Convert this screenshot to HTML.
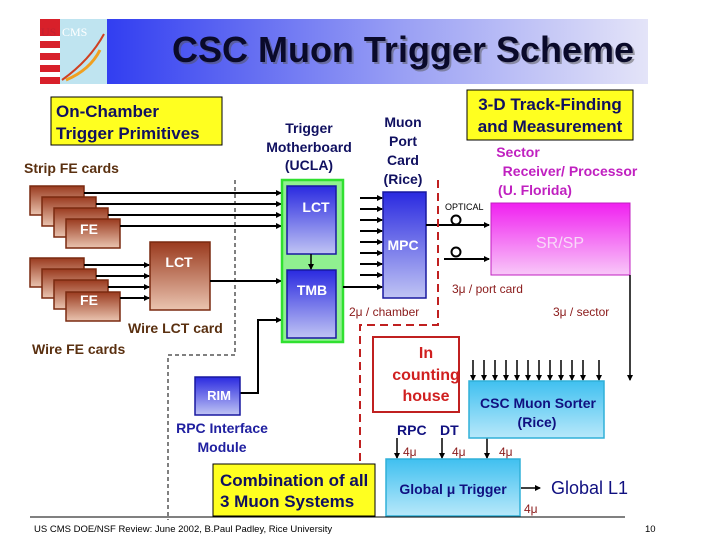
<!DOCTYPE html>
<html><head><meta charset="utf-8"><style>
html,body{margin:0;padding:0;background:#fff;}
svg{display:block;font-family:"Liberation Sans",Arial,sans-serif;}
</style></head><body>
<svg width="720" height="540" viewBox="0 0 720 540" xmlns="http://www.w3.org/2000/svg">
<defs>
<linearGradient id="tb" x1="0" x2="1" y1="0" y2="0"><stop offset="0" stop-color="#1a28f0"/><stop offset="0.6" stop-color="#9aa0f4"/><stop offset="1" stop-color="#e4e4f8"/></linearGradient>
<linearGradient id="br" x1="0" x2="0" y1="0" y2="1"><stop offset="0" stop-color="#9a3a1e"/><stop offset="1" stop-color="#eac4b0"/></linearGradient>
<linearGradient id="bl" x1="0" x2="0" y1="0" y2="1"><stop offset="0" stop-color="#2a2ae0"/><stop offset="1" stop-color="#c0c4f4"/></linearGradient>
<linearGradient id="mg" x1="0" x2="0" y1="0" y2="1"><stop offset="0" stop-color="#f020f0"/><stop offset="1" stop-color="#f8c8f8"/></linearGradient>
<linearGradient id="cy" x1="0" x2="0" y1="0" y2="1"><stop offset="0" stop-color="#40c0f0"/><stop offset="1" stop-color="#b8e8fa"/></linearGradient>
<marker id="a" markerWidth="6" markerHeight="6" refX="5" refY="3" orient="auto" markerUnits="userSpaceOnUse"><path d="M0,0 L6,3 L0,6z" fill="#000"/></marker>
</defs>
<rect x="40" y="19" width="608" height="65" fill="url(#tb)"/>
<rect x="40" y="19" width="67" height="65" fill="#bfe4f0"/>
<g fill="#d8202a"><rect x="40" y="19" width="20" height="65"/></g>
<g fill="#fff"><rect x="40" y="36" width="20" height="5"/><rect x="40" y="48" width="20" height="5"/><rect x="40" y="60" width="20" height="5"/><rect x="40" y="72" width="20" height="5"/></g>
<path d="M62,80 Q90,60 104,34" stroke="#d04020" stroke-width="2" fill="none"/>
<path d="M66,80 Q90,70 100,50" stroke="#f0a020" stroke-width="3" fill="none"/>
<text x="41" y="36" font-size="12" fill="#c02030" font-family="Liberation Serif,serif">US</text><text x="62" y="36" font-size="12" fill="#fff" font-family="Liberation Serif,serif">CMS</text>
<text x="405" y="64" font-size="36" font-weight="bold" text-anchor="middle" fill="#555" opacity="0.5">CSC Muon Trigger Scheme</text>
<text x="403" y="62" font-size="36" font-weight="bold" text-anchor="middle" fill="#0a0a2a">CSC Muon Trigger Scheme</text>
<rect x="51" y="97" width="171" height="48" fill="#ffff20" stroke="#000"/>
<text x="56" y="117" font-size="17" font-weight="bold" fill="#101060">On-Chamber</text>
<text x="56" y="139" font-size="17" font-weight="bold" fill="#101060">Trigger Primitives</text>
<rect x="467" y="90" width="166" height="50" fill="#ffff20" stroke="#000"/>
<text x="550" y="110" font-size="17" font-weight="bold" fill="#101060" text-anchor="middle">3-D Track-Finding</text>
<text x="550" y="132" font-size="17" font-weight="bold" fill="#101060" text-anchor="middle">and Measurement</text>
<text x="24" y="173" font-size="14" font-weight="bold" fill="#5a3010">Strip FE cards</text>
<g font-size="14" font-weight="bold" fill="#101060" text-anchor="middle">
<text x="309" y="133">Trigger</text><text x="309" y="152">Motherboard</text><text x="309" y="170">(UCLA)</text>
<text x="403" y="127">Muon</text><text x="403" y="146">Port</text><text x="403" y="165">Card</text><text x="403" y="184">(Rice)</text>
</g>
<g font-size="14" font-weight="bold" fill="#c020c0" text-anchor="middle">
<text x="518" y="157">Sector</text><text x="570" y="176">Receiver/ Processor</text><text x="535" y="195">(U. Florida)</text>
</g>
<path d="M235,180 V355 H168 V520" stroke="#000" stroke-dasharray="4,3" fill="none"/>
<g stroke="#7a2a10" stroke-width="1.5" fill="url(#br)">
<rect x="30" y="186" width="54" height="29"/><rect x="42" y="197" width="54" height="29"/><rect x="54" y="208" width="54" height="29"/><rect x="66" y="219" width="54" height="29"/>
<rect x="30" y="258" width="54" height="29"/><rect x="42" y="269" width="54" height="29"/><rect x="54" y="280" width="54" height="29"/><rect x="66" y="292" width="54" height="29"/>
<rect x="150" y="242" width="60" height="68"/>
</g>
<g font-size="14" font-weight="bold" fill="#fff" text-anchor="middle"><text x="89" y="234">FE</text><text x="89" y="305">FE</text><text x="179" y="267">LCT</text></g>
<g stroke="#000" stroke-width="2" marker-end="url(#a)">
<line x1="84" y1="193" x2="281" y2="193"/><line x1="96" y1="204" x2="281" y2="204"/><line x1="108" y1="215" x2="281" y2="215"/><line x1="120" y1="226" x2="281" y2="226"/>
<line x1="84" y1="265" x2="149" y2="265"/><line x1="96" y1="276" x2="149" y2="276"/><line x1="108" y1="287" x2="149" y2="287"/><line x1="120" y1="298" x2="149" y2="298"/>
<line x1="210" y1="281" x2="281" y2="281"/>
<polyline points="240,393 258,393 258,320 281,320" fill="none"/>
</g>
<text x="128" y="333" font-size="14" font-weight="bold" fill="#5a3010">Wire LCT card</text>
<text x="32" y="354" font-size="14" font-weight="bold" fill="#5a3010">Wire FE cards</text>
<rect x="282" y="180" width="61" height="162" fill="#90f090" stroke="#30e030" stroke-width="2.5"/>
<rect x="287" y="186" width="49" height="68" fill="url(#bl)" stroke="#1818a0" stroke-width="1.5"/>
<rect x="287" y="270" width="49" height="68" fill="url(#bl)" stroke="#1818a0" stroke-width="1.5"/>
<g font-size="14" font-weight="bold" fill="#fff" text-anchor="middle"><text x="316" y="212">LCT</text><text x="312" y="295">TMB</text></g>
<line x1="311" y1="254" x2="311" y2="269" stroke="#000" stroke-width="1.5" marker-end="url(#a)"/>
<rect x="383" y="192" width="43" height="106" fill="url(#bl)" stroke="#1818a0" stroke-width="1.5"/>
<text x="403" y="250" font-size="14" font-weight="bold" fill="#fff" text-anchor="middle">MPC</text>
<g stroke="#000" stroke-width="2" marker-end="url(#a)">
<line x1="360" y1="198" x2="382" y2="198"/><line x1="360" y1="209" x2="382" y2="209"/><line x1="360" y1="220" x2="382" y2="220"/><line x1="360" y1="231" x2="382" y2="231"/><line x1="360" y1="242" x2="382" y2="242"/><line x1="360" y1="253" x2="382" y2="253"/><line x1="360" y1="264" x2="382" y2="264"/><line x1="360" y1="275" x2="382" y2="275"/>
<line x1="343" y1="287" x2="382" y2="287"/>
<line x1="426" y1="225" x2="489" y2="225"/><line x1="444" y1="259" x2="489" y2="259"/>
</g>
<g fill="none" stroke="#000" stroke-width="2"><circle cx="456" cy="220" r="4.5"/><circle cx="456" cy="252" r="4.5"/></g>
<text x="445" y="210" font-size="9" fill="#000">OPTICAL</text>
<path d="M438,180 V325 H360 V470" stroke="#c02020" stroke-width="2" stroke-dasharray="8,5" fill="none"/>
<rect x="491" y="203" width="139" height="72" fill="url(#mg)" stroke="#c020c0"/>
<text x="560" y="248" font-size="16" fill="#f8d8f8" text-anchor="middle">SR/SP</text>
<g font-size="12" fill="#8a1a1a"><text x="452" y="293">3μ  / port card</text><text x="349" y="316">2μ  / chamber</text><text x="553" y="316">3μ  / sector</text></g>
<rect x="373" y="337" width="86" height="75" fill="#fff" stroke="#c02020" stroke-width="2"/>
<g font-size="16" font-weight="bold" fill="#d02020" text-anchor="middle"><text x="426" y="358">In</text><text x="426" y="380">counting</text><text x="426" y="401">house</text></g>
<g stroke="#000" stroke-width="1.5" marker-end="url(#a)">
<line x1="630" y1="275" x2="630" y2="380"/>
<line x1="473" y1="360" x2="473" y2="380"/><line x1="484" y1="360" x2="484" y2="380"/><line x1="495" y1="360" x2="495" y2="380"/><line x1="506" y1="360" x2="506" y2="380"/><line x1="517" y1="360" x2="517" y2="380"/><line x1="528" y1="360" x2="528" y2="380"/><line x1="539" y1="360" x2="539" y2="380"/><line x1="550" y1="360" x2="550" y2="380"/><line x1="561" y1="360" x2="561" y2="380"/><line x1="572" y1="360" x2="572" y2="380"/><line x1="583" y1="360" x2="583" y2="380"/><line x1="599" y1="360" x2="599" y2="380"/>
<line x1="397" y1="438" x2="397" y2="458"/><line x1="442" y1="438" x2="442" y2="458"/><line x1="487" y1="438" x2="487" y2="458"/>
<line x1="521" y1="488" x2="540" y2="488"/>
</g>
<rect x="469" y="381" width="135" height="57" fill="url(#cy)" stroke="#30b0d8" stroke-width="1.5"/>
<g font-size="14" font-weight="bold" fill="#101080" text-anchor="middle"><text x="538" y="408">CSC Muon Sorter</text><text x="537" y="427">(Rice)</text></g>
<g font-size="14" font-weight="bold" fill="#101080"><text x="397" y="435">RPC</text><text x="440" y="435">DT</text></g>
<g font-size="12" fill="#8a1a1a"><text x="403" y="456">4μ</text><text x="452" y="456">4μ</text><text x="499" y="456">4μ</text><text x="524" y="513">4μ</text></g>
<rect x="386" y="459" width="134" height="57" fill="url(#cy)" stroke="#30b0d8" stroke-width="1.5"/>
<text x="453" y="494" font-size="14" font-weight="bold" fill="#101080" text-anchor="middle">Global μ Trigger</text>
<text x="551" y="494" font-size="18" fill="#101080">Global L1</text>
<rect x="213" y="464" width="162" height="52" fill="#ffff20" stroke="#000"/>
<g font-size="17" font-weight="bold" fill="#101060"><text x="220" y="486">Combination of all</text><text x="220" y="507">3 Muon Systems</text></g>
<rect x="195" y="377" width="45" height="38" fill="url(#bl)" stroke="#1818a0" stroke-width="1.5"/>
<text x="219" y="400" font-size="13" font-weight="bold" fill="#fff" text-anchor="middle">RIM</text>
<g font-size="14" font-weight="bold" fill="#2020a0" text-anchor="middle"><text x="222" y="433">RPC Interface</text><text x="222" y="452">Module</text></g>
<line x1="30" y1="517" x2="625" y2="517" stroke="#000"/>
<text x="34" y="532" font-size="9.5" fill="#000">US CMS DOE/NSF Review:  June 2002, B.Paul Padley, Rice University</text>
<text x="645" y="532" font-size="9.5" fill="#000">10</text>
</svg>
</body></html>
